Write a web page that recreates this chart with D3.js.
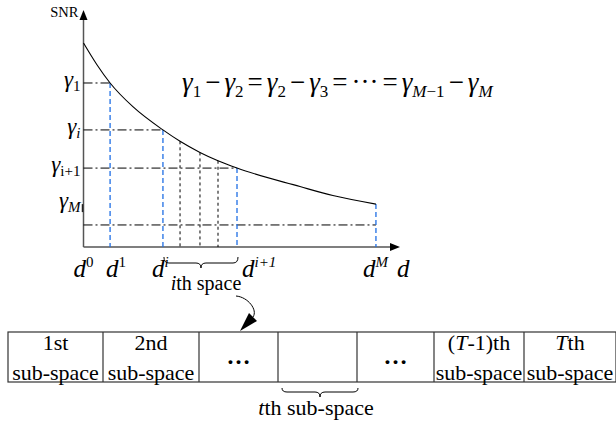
<!DOCTYPE html>
<html>
<head>
<meta charset="utf-8">
<script src="https://cdn.jsdelivr.net/npm/d3@7/dist/d3.min.js"></script>
<style>
  html, body { margin: 0; padding: 0; background: #fff; }
  svg { display: block; }
</style>
</head>
<body>
<svg id="chart" width="616" height="424"></svg>
<script>
// ---- SNR versus distance curve (abstract units) ----
const curveDist = [0, 4.3, 8.4, 15.6, 25.1, 30.5, 36.8, 42.5, 48.5, 68.4, 78.8, 92.4];
const curveSnr  = [86.1, 76.8, 69.2, 59.2, 49.4, 44.6, 39.9, 36.4, 33.3, 25.5, 21.7, 18.1];

// Space boundaries d^0, d^1, d^i, d^{i+1}, d^M
const boundaryDist = [0, 8.4, 25.1, 48.5, 92.4];
const boundarySnr  = [86.1, 69.2, 49.4, 33.3, 18.1];
const boundarySup  = ["0", "1", "i", "i+1", "M"];

// SNR thresholds gamma_1, gamma_i, gamma_{i+1}, gamma_M
const levelSub       = ["1", "i", "i+1", "M"];
const levelSubItalic = [false, true, false, true];
const levelSnr       = [69.2, 49.4, 33.3, 18.1];
const levelEndDist   = [8.4, 25.1, 48.5, null];
const floorSnr = 9.3;

// Sub-space divisions inside the i-th space
const subDivDist = [30.5, 36.8, 42.5];
const subDivSnr  = [44.6, 39.9, 36.4];

// Sub-space table
const cellTop    = ["1st", "2nd", "\u2026", "", "\u2026", "(T-1)th", "Tth"];
const cellBottom = ["sub-space", "sub-space", "", "", "", "sub-space", "sub-space"];

// ---- layout ----
const FONT = "Liberation Serif";
const svg = d3.select("#chart");
const axisColor = "#555";
const blue = "#1f6fe5";

const x = d3.scaleLinear().domain([0, 100]).range([83.5, 400]);
const y = d3.scaleLinear().domain([0, 100]).range([247, 10]);

// axes (lines only) with arrow heads
svg.append("g").attr("transform", `translate(0,${y(0)})`)
  .call(d3.axisBottom(x).tickValues([]).tickSizeOuter(0))
  .call(g => g.select(".domain").attr("stroke", axisColor).attr("stroke-width", 1.5)
    .attr("d", `M${x(0)},0H${x(100) - 8}`));
svg.append("g").attr("transform", `translate(${x(0)},0)`)
  .call(d3.axisLeft(y).tickValues([]).tickSizeOuter(0))
  .call(g => g.select(".domain").attr("stroke", axisColor).attr("stroke-width", 1.5)
    .attr("d", `M0,${y(0)}V${y(100) + 8}`));
svg.append("path")
  .attr("d", `M${x(100)},${y(0)}l-10,-4v8z`).attr("fill", "#000");
svg.append("path")
  .attr("d", `M${x(0)},${y(100)}l-4,10h8z`).attr("fill", "#000");

// math text helper: parts = [{t, it, size, dy, dx}]
function mathText(parent, px, py, parts, anchor) {
  const t = parent.append("text").attr("x", px).attr("y", py)
    .attr("font-family", FONT).attr("fill", "#000")
    .attr("text-anchor", anchor || "start");
  parts.forEach(p => {
    const s = t.append("tspan")
      .attr("font-family", FONT)
      .attr("font-size", p.size)
      .attr("font-style", p.it ? "italic" : "normal")
      .attr("dy", p.dy || 0)
      .text(p.t);
    if (p.dx) s.attr("dx", p.dx);
  });
  return t;
}

mathText(svg, x(0) - 5, y(100) + 7, [{ t: "SNR", size: 14.5 }], "end");

// horizontal dash-dot guides
const dashDot = "9,3,2,3";
levelSnr.forEach((s, k) => {
  if (levelEndDist[k] === null) return;
  svg.append("line")
    .attr("x1", x(0)).attr("x2", x(levelEndDist[k]))
    .attr("y1", y(s)).attr("y2", y(s))
    .attr("stroke", "#000").attr("stroke-width", 1).attr("stroke-dasharray", dashDot);
});
svg.append("line")
  .attr("x1", x(0)).attr("x2", x(boundaryDist[4]))
  .attr("y1", y(floorSnr)).attr("y2", y(floorSnr))
  .attr("stroke", "#000").attr("stroke-width", 1).attr("stroke-dasharray", dashDot);
// small mark on the axis at gamma_M
svg.append("line")
  .attr("x1", x(0) - 1).attr("x2", x(0) - 1)
  .attr("y1", y(levelSnr[3])).attr("y2", y(levelSnr[3]) + 8)
  .attr("stroke", "#222").attr("stroke-width", 1.5);

// blue dashed boundary verticals
boundaryDist.forEach((d, k) => {
  if (k === 0) return;
  svg.append("line")
    .attr("x1", x(d)).attr("x2", x(d))
    .attr("y1", y(boundarySnr[k])).attr("y2", y(0))
    .attr("stroke", blue).attr("stroke-width", 1.3).attr("stroke-dasharray", "5,3");
});

// black dotted sub-space verticals
subDivDist.forEach((d, k) => {
  svg.append("line")
    .attr("x1", x(d)).attr("x2", x(d))
    .attr("y1", y(subDivSnr[k])).attr("y2", y(0))
    .attr("stroke", "#000").attr("stroke-width", 1).attr("stroke-dasharray", "3,3");
});

// the SNR curve
const pts = curveDist.map((d, k) => [d, curveSnr[k]]);
svg.append("path")
  .attr("d", d3.line().x(p => x(p[0])).y(p => y(p[1])).curve(d3.curveMonotoneX)(pts))
  .attr("fill", "none").attr("stroke", "#000").attr("stroke-width", 1.1);

// gamma labels on the SNR axis
levelSnr.forEach((s, k) => {
  mathText(svg, x(0) - 3, y(s) + 4, [
    { t: "\u03B3", it: true, size: 23 },
    { t: levelSub[k], it: levelSubItalic[k], size: 15, dy: 4 }
  ], "end");
});

// distance labels
const boundaryLabelDx = [-10, -4, -11, 5, -13];
boundaryDist.forEach((d, k) => {
  mathText(svg, x(d) + boundaryLabelDx[k], 277, [
    { t: "d", it: true, size: 25 },
    { t: boundarySup[k], it: k > 1, size: 15, dy: -10 }
  ]);
});
mathText(svg, x(100) - 3, 277, [{ t: "d", it: true, size: 25 }]);

// equal-gap formula
const G = 27, S = 17, gap = 4;
const gam = (dx) => ({ t: "\u03B3", it: true, size: G, dx: dx || 0 });
const sub = (t, it) => ({ t, it, size: S, dy: 6 });
const op = t => ({ t, size: G, dy: -6, dx: gap });
mathText(svg, 182, 91, [
  gam(), sub("1"), op("\u2212"), gam(gap), sub("2"),
  op("="), gam(gap), sub("2"), op("\u2212"), gam(gap), sub("3"),
  op("="), { t: "\u00B7\u00B7\u00B7", size: G, dx: gap }, { t: "=", size: G, dx: gap },
  gam(gap), sub("M", true), { t: "\u22121", size: S },
  op("\u2212"), gam(gap), sub("M", true)
]);

// curly brace helper (opening downwards)
function brace(x1, x2, yTop, yMid, yTip) {
  const xm = (x1 + x2) / 2, r = 5;
  return `M${x1},${yTop}Q${x1},${yMid} ${x1 + r},${yMid}L${xm - r},${yMid}` +
    `Q${xm},${yMid} ${xm},${yTip}Q${xm},${yMid} ${xm + r},${yMid}` +
    `L${x2 - r},${yMid}Q${x2},${yMid} ${x2},${yTop}`;
}
svg.append("path")
  .attr("d", brace(x(boundaryDist[2]) + 1, x(boundaryDist[3]) + 1, 257, 263, 268))
  .attr("fill", "none").attr("stroke", "#000").attr("stroke-width", 1);
mathText(svg, 206, 290, [
  { t: "i", it: true, size: 20 }, { t: "th space", size: 20 }
], "middle");

// arrow into the table
svg.append("path")
  .attr("d", "M236,296C248,297 258,310 253,317")
  .attr("fill", "none").attr("stroke", "#000").attr("stroke-width", 1);
svg.append("path")
  .attr("d", "M240,331L249,313L257,321Z").attr("fill", "#000");

// sub-space table
const cellWidths = [95, 96, 79, 79, 77, 90, 92];
const tableLeft = 8, tableTop = 332, tableBottom = 382;
const edges = [tableLeft];
cellWidths.forEach(w => edges.push(edges[edges.length - 1] + w));
const tbl = svg.append("g");
tbl.append("rect")
  .attr("x", tableLeft).attr("y", tableTop)
  .attr("width", edges[edges.length - 1] - tableLeft).attr("height", tableBottom - tableTop)
  .attr("fill", "none").attr("stroke", "#333").attr("stroke-width", 1.2);
edges.slice(1, -1).forEach(e => {
  tbl.append("line").attr("x1", e).attr("x2", e).attr("y1", tableTop).attr("y2", tableBottom)
    .attr("stroke", "#333").attr("stroke-width", 1.2);
});
cellTop.forEach((label, k) => {
  const cx = (edges[k] + edges[k + 1]) / 2;
  if (!cellBottom[k]) {
    if (label) mathText(tbl, cx, 364, [{ t: label, size: 24 }], "middle").attr("font-weight", "bold");
    return;
  }
  const parts = label.startsWith("(T") ?
    [{ t: "(", size: 22 }, { t: "T", it: true, size: 22 }, { t: "-1)th", size: 22 }] :
    label.startsWith("T") ?
    [{ t: "T", it: true, size: 22 }, { t: "th", size: 22 }] :
    [{ t: label, size: 22 }];
  mathText(tbl, cx, 350, parts, "middle");
  mathText(tbl, cx, 380, [{ t: cellBottom[k], size: 22 }], "middle");
});

// brace under the t-th sub-space
svg.append("path")
  .attr("d", brace(edges[3] + 4, edges[4] + 1, 388, 392, 397))
  .attr("fill", "none").attr("stroke", "#000").attr("stroke-width", 1);
mathText(svg, 316, 415, [
  { t: "t", it: true, size: 22 }, { t: "th sub-space", size: 22 }
], "middle");
</script>
</body>
</html>
